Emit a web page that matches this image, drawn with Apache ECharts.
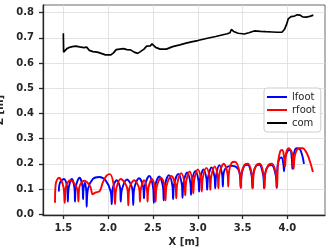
<!DOCTYPE html>
<html><head><meta charset="utf-8">
<script src="https://cdn.jsdelivr.net/npm/echarts@6/dist/echarts.min.js"></script>
<style>html,body{margin:0;padding:0;background:#fff}#c{width:332px;height:252px}</style>
</head><body><div id="c"></div>
<script>
const xTicks = [1.5, 2.0, 2.5, 3.0, 3.5, 4.0];
const zTicks = [0.0, 0.1, 0.2, 0.3, 0.4, 0.5, 0.6, 0.7, 0.8];
const seriesNames = ['lfoot', 'rfoot', 'com'];

const lfoot = [
[1.45,0.09],
[1.462,0.125],[1.505,0.14],[1.543,0.105],[1.55,0.05],
[1.56,0.105],[1.594,0.14],[1.624,0.105],[1.63,0.05],
[1.64,0.11],[1.68,0.145],[1.714,0.11],[1.72,0.06],
[1.725,0.10],[1.742,0.125],[1.757,0.085],[1.76,0.03],
[1.775,0.10],[1.83,0.14],[1.90,0.148],[1.97,0.135],[2.028,0.09],[2.04,0.04],
[2.05,0.10],[2.095,0.135],[2.135,0.10],[2.14,0.05],
[2.155,0.10],[2.21,0.138],[2.27,0.10],[2.28,0.037],
[2.29,0.10],[2.345,0.143],[2.39,0.11],[2.40,0.063],
[2.412,0.116],[2.46,0.152],[2.502,0.105],[2.51,0.045],
[2.522,0.108],[2.57,0.15],[2.612,0.108],[2.62,0.055],
[2.632,0.115],[2.678,0.155],[2.717,0.113],[2.725,0.06],
[2.737,0.12],[2.783,0.16],[2.822,0.118],[2.83,0.065],
[2.842,0.126],[2.882,0.166],[2.917,0.126],[2.925,0.077],
[2.937,0.134],[2.975,0.172],[3.007,0.135],[3.015,0.09],
[3.027,0.143],[3.065,0.178],[3.097,0.141],[3.105,0.097],
[3.117,0.15],[3.155,0.186],[3.187,0.148],[3.195,0.103],
[3.207,0.158],[3.242,0.195],[3.272,0.157],[3.28,0.11],
[3.29,0.165],[3.33,0.188],[3.39,0.192],[3.45,0.18],[3.472,0.15],[3.48,0.105],
[3.49,0.16],[3.52,0.192],[3.558,0.196],[3.60,0.155],[3.61,0.103],
[3.62,0.16],[3.65,0.192],[3.688,0.196],[3.73,0.155],[3.74,0.103],
[3.75,0.16],[3.782,0.19],[3.824,0.195],[3.87,0.155],[3.88,0.105],
[3.89,0.19],[3.91,0.22],[3.935,0.225],[3.955,0.2],[3.962,0.17],
[3.975,0.22],[4.0,0.25],[4.03,0.255],[4.05,0.22],[4.056,0.18],
[4.07,0.235],[4.10,0.262],[4.135,0.26],[4.165,0.235],[4.185,0.2]
];

const rfoot = [
[1.407,0.046],
[1.415,0.12],[1.45,0.145],[1.50,0.11],[1.515,0.045],
[1.53,0.11],[1.575,0.135],[1.655,0.10],[1.668,0.05],
[1.68,0.11],[1.735,0.133],[1.80,0.11],[1.827,0.079],[1.855,0.086],[1.905,0.092],[1.94,0.125],[1.98,0.152],[2.02,0.159],[2.06,0.12],[2.077,0.04],
[2.09,0.10],[2.14,0.14],[2.215,0.10],[2.225,0.035],
[2.235,0.10],[2.29,0.135],[2.347,0.10],[2.355,0.05],
[2.365,0.10],[2.402,0.135],[2.433,0.097],[2.44,0.05],
[2.45,0.104],[2.49,0.14],[2.523,0.10],[2.53,0.05],
[2.541,0.107],[2.59,0.145],[2.632,0.104],[2.64,0.055],
[2.652,0.113],[2.706,0.152],[2.752,0.112],[2.76,0.063],
[2.772,0.123],[2.815,0.163],[2.852,0.124],[2.86,0.075],
[2.872,0.132],[2.91,0.17],[2.942,0.13],[2.95,0.083],
[2.962,0.14],[3.002,0.178],[3.037,0.138],[3.045,0.09],
[3.057,0.146],[3.097,0.184],[3.132,0.146],[3.14,0.097],
[3.152,0.153],[3.19,0.19],[3.222,0.151],[3.23,0.103],
[3.242,0.161],[3.29,0.2],[3.332,0.16],[3.34,0.11],
[3.35,0.17],[3.378,0.204],[3.415,0.208],[3.47,0.16],[3.48,0.105],
[3.49,0.163],[3.522,0.196],[3.562,0.2],[3.605,0.155],[3.615,0.103],
[3.625,0.163],[3.657,0.196],[3.695,0.2],[3.735,0.155],[3.745,0.103],
[3.755,0.163],[3.79,0.196],[3.83,0.2],[3.875,0.155],[3.885,0.105],
[3.895,0.20],[3.92,0.25],[3.945,0.255],[3.965,0.22],[3.975,0.19],
[3.985,0.24],[4.015,0.262],[4.05,0.245],[4.065,0.2],[4.07,0.18],
[4.085,0.235],[4.13,0.262],[4.17,0.262],[4.22,0.24],[4.26,0.2],[4.285,0.168]
];

const com = [
[1.500,0.718],[1.503,0.643],[1.52,0.650],[1.54,0.657],[1.57,0.662],[1.60,0.665],
[1.64,0.667],[1.68,0.664],[1.70,0.667],[1.73,0.661],[1.76,0.663],[1.79,0.650],
[1.83,0.645],[1.88,0.643],[1.93,0.637],[1.97,0.632],[2.03,0.632],[2.06,0.640],
[2.09,0.653],[2.13,0.655],[2.17,0.657],[2.21,0.653],[2.25,0.652],[2.29,0.643],
[2.33,0.638],[2.36,0.645],[2.40,0.655],[2.43,0.667],[2.47,0.668],[2.49,0.676],
[2.53,0.662],[2.58,0.655],[2.65,0.655],[2.72,0.665],[2.80,0.672],[2.87,0.679],
[2.93,0.684],[3.00,0.689],[3.06,0.694],[3.12,0.699],[3.20,0.705],[3.27,0.711],
[3.33,0.716],[3.36,0.720],[3.375,0.733],[3.40,0.725],[3.45,0.718],[3.52,0.715],
[3.57,0.720],[3.63,0.727],[3.70,0.725],[3.76,0.724],[3.83,0.723],[3.89,0.722],
[3.94,0.722],[3.97,0.735],[3.99,0.752],[4.01,0.775],[4.04,0.784],[4.08,0.786],
[4.11,0.791],[4.14,0.790],[4.17,0.783],[4.21,0.782],[4.25,0.785],[4.29,0.790]
];

const colors = ['#0000ff', '#ff0000', '#000000'];
const font = 'DejaVu Sans';
const ink = '#262626';

const chart = echarts.init(document.getElementById('c'), null, {renderer: 'canvas'});
chart.setOption({
  animation: false,
  grid: {left: 43, right: 7, top: 5, bottom: 37, show: true, borderColor: '#444', borderWidth: 0.8, containLabel: false, outerBoundsMode: 'none'},
  legend: {
    data: seriesNames, orient: 'vertical', left: 264, top: 88,
    icon: 'rect', itemWidth: 20, itemHeight: 2, itemGap: 1,
    backgroundColor: '#fff', borderColor: '#cccccc', borderWidth: 1, borderRadius: 3,
    padding: [3, 5, 3, 3],
    textStyle: {fontFamily: font, fontSize: 10, color: ink, lineHeight: 12}
  },
  xAxis: {
    type: 'value', min: 1.273, max: 4.42,
    name: 'X [m]', nameLocation: 'middle', nameGap: 21,
    nameTextStyle: {fontFamily: font, fontWeight: 'bold', fontSize: 10, color: ink},
    axisLine: {show: true, onZero: false, lineStyle: {color: ink, width: 1.3}},
    axisTick: {show: true, inside: false, length: 4, customValues: xTicks, lineStyle: {color: ink, width: 1.3}},
    axisLabel: {customValues: xTicks, formatter: v => v.toFixed(1), fontFamily: font, fontWeight: 'bold', fontSize: 10, color: ink, margin: 8},
    splitLine: {show: true, lineStyle: {color: '#dcdcdc', width: 0.8}}
  },
  yAxis: {
    type: 'value', min: -0.003, max: 0.830,
    name: 'Z [m]', nameLocation: 'middle', nameGap: 27,
    nameTextStyle: {fontFamily: font, fontWeight: 'bold', fontSize: 10, color: ink},
    axisLine: {show: true, onZero: false, lineStyle: {color: ink, width: 1.3}},
    axisTick: {show: true, inside: false, length: 4, customValues: zTicks, lineStyle: {color: ink, width: 1.3}},
    axisLabel: {customValues: zTicks, formatter: v => v.toFixed(1), fontFamily: font, fontWeight: 'bold', fontSize: 10, color: ink, margin: 9},
    splitLine: {show: true, lineStyle: {color: '#dcdcdc', width: 0.8}}
  },
  series: [
    {name: seriesNames[0], type: 'line', data: lfoot, showSymbol: false, symbol: 'none', smooth: 0.35, lineStyle: {color: colors[0], width: 1.9}, itemStyle: {color: colors[0]}},
    {name: seriesNames[1], type: 'line', data: rfoot, showSymbol: false, symbol: 'none', smooth: 0.35, lineStyle: {color: colors[1], width: 1.9}, itemStyle: {color: colors[1]}},
    {name: seriesNames[2], type: 'line', data: com, showSymbol: false, symbol: 'none', lineStyle: {color: colors[2], width: 1.7}, itemStyle: {color: colors[2]}}
  ]
});
</script></body></html>
